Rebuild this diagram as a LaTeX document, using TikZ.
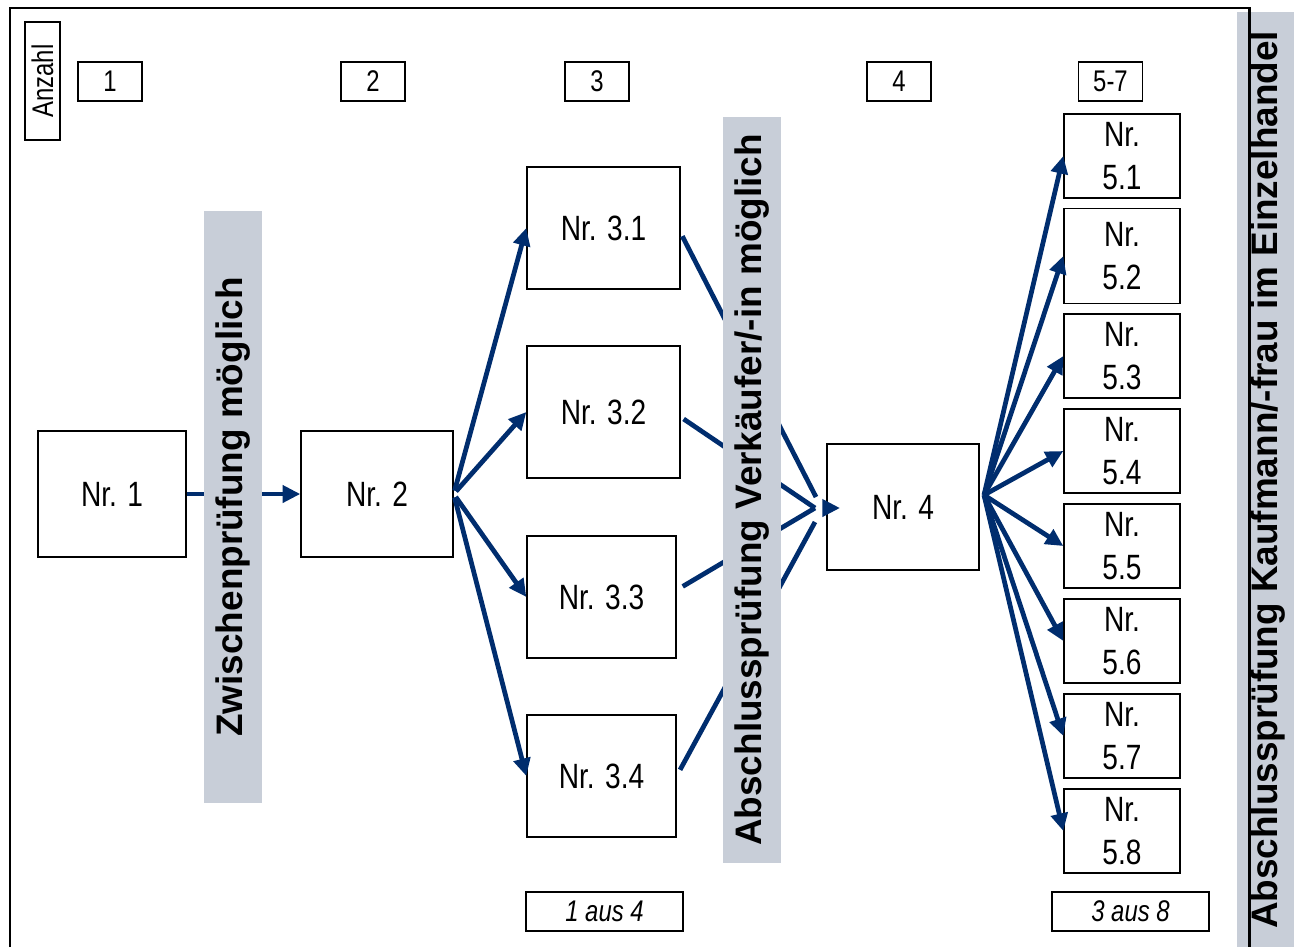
\documentclass[tikz,border=0pt]{standalone}
\usepackage{fontspec}
\setmainfont{Liberation Sans}
\newfontfamily\narrowfont[FakeStretch=0.8]{Liberation Sans}
\usetikzlibrary{arrows.meta}
\definecolor{flowblue}{HTML}{002D6E}
\definecolor{bannergray}{HTML}{C8CED8}

\begin{document}
\begin{tikzpicture}[x=0.02cm,y=-0.02cm]
  \tikzset{
nr box/.style={draw,line width=0.8pt,inner sep=0pt,align=center,font=\narrowfont\fontsize{20}{24}\selectfont},
count box/.style={draw,line width=0.8pt,inner sep=0pt,minimum width=1.28cm,minimum height=0.78cm,font=\narrowfont\fontsize{17}{20}\selectfont},
aus box/.style={count box,minimum width=3.14cm,font=\narrowfont\itshape\fontsize{17}{20}\selectfont},
banner/.style={fill=bannergray,rotate=90,inner sep=0pt,minimum height=1.16cm,font=\bfseries\fontsize{21}{25}\selectfont},
flow/.style={draw=flowblue,line width=2.7pt,-{Triangle[length=10pt,width=9.5pt]}},
flow line/.style={draw=flowblue,line width=2.7pt}
}
  \useasboundingbox (0,0) rectangle (1294,947);

  \node[draw,line width=0.8pt,rotate=90,inner sep=0pt,minimum width=2.36cm,minimum height=0.7cm,
        font=\narrowfont\fontsize{17}{20}\selectfont] (anzahl) at (42.5,81) {Anzahl};
  \node[count box] (c1) at (110,81.5) {1};
  \node[count box] (c2) at (373,81.5) {2};
  \node[count box] (c3) at (597,81.5) {3};
  \node[count box] (c4) at (899,81.5) {4};
  \node[count box] (c5) at (1110.5,81.5) {5-7};

  \node[nr box,minimum width=2.96cm,minimum height=2.52cm] (n1) at (112,494) {Nr. 1};
  \node[nr box,minimum width=3.04cm,minimum height=2.52cm] (n2) at (377,494) {Nr. 2};
  \node[nr box,minimum width=3.06cm,minimum height=2.44cm] (n31) at (603.5,228) {Nr. 3.1};
  \node[nr box,minimum width=3.06cm,minimum height=2.64cm] (n32) at (603.5,412) {Nr. 3.2};
  \node[nr box,minimum width=2.98cm,minimum height=2.44cm] (n33) at (601.5,597) {Nr. 3.3};
  \node[nr box,minimum width=2.98cm,minimum height=2.44cm] (n34) at (601.5,776) {Nr. 3.4};
  \node[nr box,minimum width=3.04cm,minimum height=2.52cm] (n4) at (903,507) {Nr. 4};

  \node[nr box,minimum width=2.32cm,minimum height=1.68cm] (n51) at (1122,156) {Nr.\\5.1};
  \node[nr box,minimum width=2.32cm,minimum height=1.9cm] (n52) at (1122,256) {Nr.\\5.2};
  \node[nr box,minimum width=2.32cm,minimum height=1.68cm] (n53) at (1122,356) {Nr.\\5.3};
  \node[nr box,minimum width=2.32cm,minimum height=1.68cm] (n54) at (1122,451) {Nr.\\5.4};
  \node[nr box,minimum width=2.32cm,minimum height=1.68cm] (n55) at (1122,546) {Nr.\\5.5};
  \node[nr box,minimum width=2.32cm,minimum height=1.68cm] (n56) at (1122,641) {Nr.\\5.6};
  \node[nr box,minimum width=2.32cm,minimum height=1.68cm] (n57) at (1122,736) {Nr.\\5.7};
  \node[nr box,minimum width=2.32cm,minimum height=1.68cm] (n58) at (1122,831) {Nr.\\5.8};

  \node[aus box] (aus4) at (604.5,911.5) {1 aus 4};
  \node[aus box] (aus8) at (1130.5,911.5) {3 aus 8};

  \coordinate (join top) at (816,497);
  \coordinate (join) at (815,508);
  \coordinate (join bottom) at (815,522);
  \coordinate (join tip) at (840,508);
  \coordinate (fan) at (984,495);

  \draw[flow] (n1) -- (n2);
  \draw[flow,shorten <=2pt] (n2.east) -- (n31.west);
  \draw[flow,shorten <=2pt] (n2.east) -- (n32.west);
  \draw[flow,shorten <=2pt] (n2.east) -- (n33.west);
  \draw[flow,shorten <=2pt] (n2.east) -- (n34.west);
  \draw[flow line,shorten <=2pt] ([yshift=-0.1cm]n31.east) -- (join top);
  \draw[flow line,shorten <=2pt] ([yshift=-0.1cm]n32.east) -- (join);
  \draw[flow line,shorten <=4pt] ([yshift=0.14cm]n33.east) -- (join);
  \draw[flow line,shorten <=4pt] (n34.east) -- (join bottom);
  \draw[flow,shorten <=5pt] (join) -- (join tip);
  \draw[flow] (fan) -- (n51.west);
  \draw[flow] (fan) -- (n52.west);
  \draw[flow] (fan) -- (n53.west);
  \draw[flow] (fan) -- (n54.west);
  \draw[flow] (fan) -- (n55.west);
  \draw[flow] (fan) -- (n56.west);
  \draw[flow] (fan) -- (n57.west);
  \draw[flow] (fan) -- (n58.west);

  \node[banner,minimum width=11.84cm] (zwischen) at (233,507) {Zwischenprüfung möglich};
  \node[banner,minimum width=14.92cm] (verkaeufer) at (752,490) {Abschlussprüfung Verkäufer/-in möglich};
  \node[banner,minimum width=18.7cm,minimum height=1.14cm] (kaufmann) at (1265.5,479.5) {};
  \node[rotate=90,inner sep=0pt,font=\bfseries\fontsize{21}{25}\selectfont] (kaufmann text) at (1268,480) {Abschlussprüfung Kaufmann/-frau im Einzelhandel};

  \draw[line width=1.7pt] (10,947) -- (10,8) -- (1249,8) -- (1249,947);
\end{tikzpicture}
\end{document}
